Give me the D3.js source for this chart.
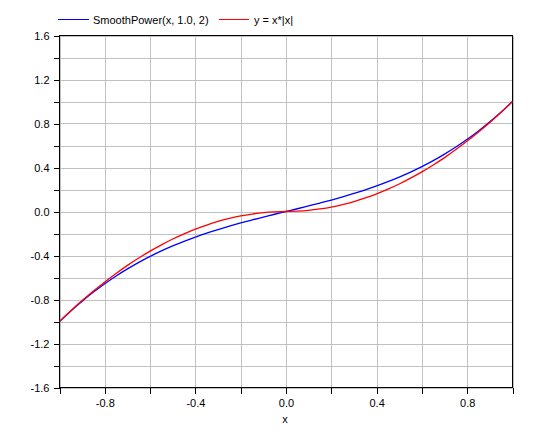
<!DOCTYPE html>
<html><head><meta charset="utf-8">
<script src="https://cdn.jsdelivr.net/npm/d3@7"></script>
<style>body{margin:0;background:#fff}svg{display:block}text{font-family:"Liberation Sans",Arial,sans-serif;font-size:11px;fill:#000}</style>
</head><body>
<svg id="c" width="537" height="437"></svg>
<script>
const xs = [-1,-0.95,-0.9,-0.85,-0.8,-0.75,-0.7,-0.65,-0.6,-0.55,-0.5,-0.45,-0.4,-0.35,-0.3,-0.25,-0.2,-0.15,-0.1,-0.05,0,
  0.05,0.1,0.15,0.2,0.25,0.3,0.35,0.4,0.45,0.5,0.55,0.6,0.65,0.7,0.75,0.8,0.85,0.9,0.95,1];
const smoothPower = [-1,-0.904,-0.815,-0.732,-0.656,-0.586,-0.522,-0.462,-0.408,-0.358,-0.313,-0.271,-0.232,-0.196,-0.164,-0.133,-0.104,-0.077,-0.051,-0.025,0,
  0.025,0.051,0.077,0.104,0.133,0.164,0.196,0.232,0.271,0.313,0.358,0.408,0.462,0.522,0.586,0.656,0.732,0.815,0.904,1];
const xAbsX = [-1,-0.903,-0.81,-0.723,-0.64,-0.563,-0.49,-0.423,-0.36,-0.303,-0.25,-0.203,-0.16,-0.123,-0.09,-0.063,-0.04,-0.023,-0.01,-0.003,0,
  0.003,0.01,0.023,0.04,0.063,0.09,0.123,0.16,0.203,0.25,0.303,0.36,0.423,0.49,0.563,0.64,0.723,0.81,0.903,1];
const xTickLabels = [-0.8,-0.4,0.0,0.4,0.8];
const yTickLabels = [-1.6,-1.2,-0.8,-0.4,0.0,0.4,0.8,1.2,1.6];
const seriesNames = ["SmoothPower(x, 1.0, 2)","y = x*|x|"];
const seriesColors = ["#0000ff","#ff0000"];

const L=59.5,R=512.5,T=35.5,B=387.5;
const x=d3.scaleLinear().domain([-1,1]).range([L,R]);
const y=d3.scaleLinear().domain([-1.6,1.6]).range([B,T]);
const svg=d3.select("#c");
const fmt=d=>d3.format(".1f")(d).replace("\u2212","-");
const minorX=d3.range(-10,11,2).map(v=>v/10);
const minorY=d3.range(-16,17,2).map(v=>v/10);
const g=svg.append("g").attr("shape-rendering","crispEdges");
g.selectAll(".gx").data(minorX).join("line").attr("x1",d=>Math.round(x(d))+0.5).attr("x2",d=>Math.round(x(d))+0.5)
 .attr("y1",T).attr("y2",B).attr("stroke","#c0c0c0");
g.selectAll(".gy").data(minorY).join("line").attr("y1",d=>Math.round(y(d))+0.5).attr("y2",d=>Math.round(y(d))+0.5)
 .attr("x1",L).attr("x2",R).attr("stroke","#c0c0c0");

const line=d3.line().x(d=>x(d[0])).y(d=>y(d[1])).curve(d3.curveMonotoneX);
const data=[smoothPower,xAbsX];
svg.selectAll(".s").data(data).join("path").attr("d",s=>line(xs.map((v,i)=>[v,s[i]])))
 .attr("fill","none").attr("stroke",(d,i)=>seriesColors[i]).attr("stroke-width",1.3);

g.append("rect").attr("x",L).attr("y",T).attr("width",R-L).attr("height",B-T).attr("fill","none").attr("stroke","#000");

const isLab=(arr,d)=>arr.some(v=>Math.abs(v-d)<1e-9);
const xAxis=d3.axisBottom(x).tickValues(minorX).tickSize(6).tickFormat(d=>isLab(xTickLabels,d)?fmt(d):"");
const ax=svg.append("g").attr("transform",`translate(0,${B})`).call(xAxis);
const yAxis=d3.axisLeft(y).tickValues(minorY).tickSize(6).tickFormat(d=>isLab(yTickLabels,d)?fmt(d):"");
const ay=svg.append("g").attr("transform",`translate(${L},0)`).call(yAxis);
[ax,ay].forEach(a=>{a.select(".domain").remove();a.selectAll("line").attr("stroke","#000").attr("shape-rendering","crispEdges");
 a.attr("font-family",null).attr("font-size",null);});
ax.selectAll("text").attr("dy",0).attr("y",19.5);
ay.selectAll("text").attr("x",-10).attr("dy",0).attr("y",4);

svg.append("text").attr("x",(L+R)/2-1).attr("y",423).attr("text-anchor","middle").text("x");

const lg=svg.append("g");
const lx=[[58,89,93],[219,249,254]];
seriesNames.forEach((n,i)=>{
  lg.append("line").attr("x1",lx[i][0]).attr("x2",lx[i][1]).attr("y1",19.5).attr("y2",19.5).attr("stroke",seriesColors[i]).attr("shape-rendering","crispEdges");
  lg.append("text").attr("x",lx[i][2]).attr("y",24).text(n);
});
</script>
</body></html>
